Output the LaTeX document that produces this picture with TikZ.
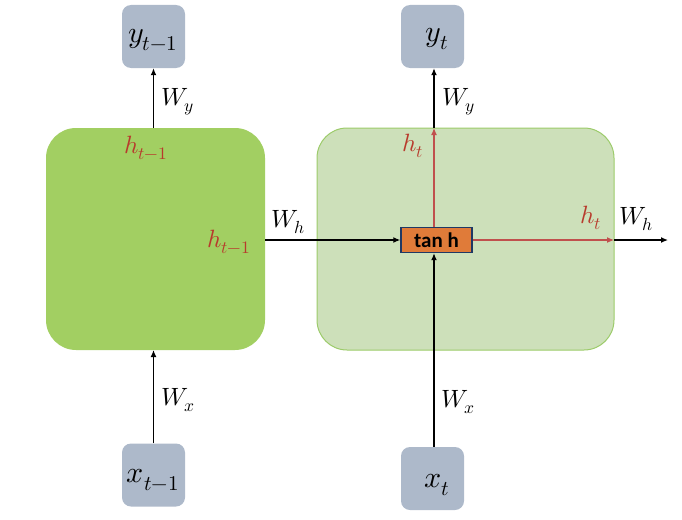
\documentclass[tikz,border=0pt]{standalone}
\usepackage{fontspec}
\usepackage{unicode-math}
\setmathfont{Latin Modern Math}
\newfontfamily\calfont{Carlito}
\usetikzlibrary{arrows.meta}
\definecolor{cellA}{HTML}{A2CF62}
\definecolor{cellB}{HTML}{CDE0BA}
\definecolor{cellBline}{HTML}{9CCB6A}
\definecolor{iobox}{HTML}{ADB9CA}
\definecolor{hred}{HTML}{B83A2C}
\definecolor{lred}{HTML}{C0504D}
\definecolor{tanhfill}{HTML}{E07B39}
\definecolor{tanhline}{HTML}{1F3864}
\tikzset{
  io/.style={fill=iobox, rounded corners=9pt, minimum width=63pt, minimum height=63pt, inner sep=0pt},
  iotext/.style={font=\fontsize{30}{30}\selectfont, inner sep=0pt},
  arr/.style={-{Latex[length=7pt,width=6pt]}, line width=1.3pt},
  rarr/.style={-{Latex[length=7pt,width=6pt]}, line width=1.1pt, draw=lred},
  wlab/.style={font=\fontsize{25}{25}\selectfont, inner sep=0pt, anchor=west},
  hlab/.style={font=\fontsize{25}{25}\selectfont, text=hred, inner sep=0pt, anchor=west},
}
\begin{document}
\begin{tikzpicture}[x=1pt,y=-1pt]
\useasboundingbox (0,0) rectangle (682,519);
% cells
\node[fill=cellA, rounded corners=30pt, minimum width=219pt, minimum height=222pt, inner sep=0pt] (c1) at (155.5,239) {};
\node[fill=cellB, draw=cellBline, line width=1pt, rounded corners=30pt, minimum width=297pt, minimum height=222pt, inner sep=0pt] (c2) at (465.5,239) {};
% io boxes
\node[io] (y1) at (153.5,36.5) {};
\node[io] (y2) at (432.5,36.5) {};
\node[io] (x1) at (153.5,475) {};
\node[io] (x2) at (432.5,478.5) {};
\node[iotext] (ty1) at (153,40) {$y_{t-1}$};
\node[iotext] (ty2) at (437,39) {$y_t$};
\node[iotext] (tx1) at (153,480) {$x_{t-1}$};
\node[iotext] (tx2) at (437,485) {$x_t$};
% tanh
\node[fill=tanhfill, draw=tanhline, line width=1.4pt, minimum width=71pt, minimum height=25pt, inner sep=0pt, font=\calfont\bfseries\fontsize{21}{21}\selectfont] (th) at (436.5,240) {tan h};
% coordinates
\coordinate (c1top) at (153.5,128);
\coordinate (c1bot) at (153.5,350);
\coordinate (c1right) at (265,240);
\coordinate (c2top) at (434,128);
\coordinate (c2right) at (614,240);
\coordinate (out) at (668,240);
% arrows
\draw[arr] (c1top) -- (y1.south);
\draw[arr] (x1.north) -- (c1bot);
\draw[arr] (c1right) -- (th.west);
\draw[rarr] (th.north -| c2top) -- (c2top);
\draw[arr] (c2top) -- (y2.south -| c2top);
\draw[rarr] (th.east) -- (c2right);
\draw[arr] (c2right) -- (out);
\draw[arr] (x2.north -| c2top) -- (th.south -| c2top);
% labels
\node[wlab] (wy1) at (161,102) {$W_y$};
\node[wlab] (wy2) at (442,102) {$W_y$};
\node[wlab] (wx1) at (161,400) {$W_x$};
\node[wlab] (wx2) at (441,402) {$W_x$};
\node[wlab] (wh1) at (271,222) {$W_h$};
\node[wlab] (wh2) at (619,219) {$W_h$};
\node[hlab] (h1) at (124,148) {$h_{t-1}$};
\node[hlab] (h2) at (207,242) {$h_{t-1}$};
\node[hlab] (h3) at (402,146) {$h_t$};
\node[hlab] (h4) at (580,218) {$h_t$};
\end{tikzpicture}
\end{document}
